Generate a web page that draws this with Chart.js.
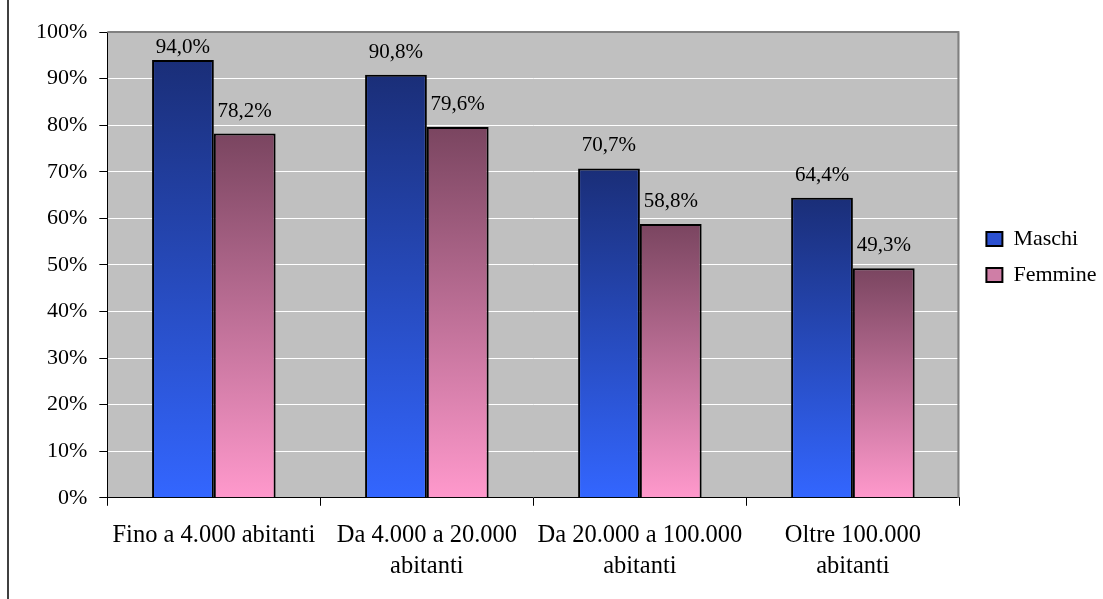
<!DOCTYPE html>
<html>
<head>
<meta charset="utf-8">
<script src="https://cdn.jsdelivr.net/npm/chart.js@4.4.0/dist/chart.umd.min.js"></script>
<style>
  html, body { margin: 0; padding: 0; background: #ffffff; }
  #wrap { width: 1103px; height: 599px; }
</style>
</head>
<body>
<div id="wrap"><canvas id="popChart" width="1103" height="599"></canvas></div>
<script>
    var categories = [
        'Fino a 4.000 abitanti',
        ['Da 4.000 a 20.000', 'abitanti'],
        ['Da 20.000 a 100.000', 'abitanti'],
        ['Oltre 100.000', 'abitanti']
    ];
    var maschi = [94.0, 90.8, 70.7, 64.4];
    var femmine = [78.2, 79.6, 58.8, 49.3];
    var yTicks = [0, 10, 20, 30, 40, 50, 60, 70, 80, 90, 100];
    var legendColors = ['#2b50d0', '#cf7ea6'];

    var serif = "'Liberation Serif', 'Times New Roman', serif";

    // vertical gradient per bar, dark on top, light at the base
    function barGradient(topColor, bottomColor) {
        return function(c) {
            var chart = c.chart;
            var y = chart.scales && chart.scales.y;
            if (!chart.chartArea || !y || c.type !== 'data') return bottomColor;
            var g = chart.ctx.createLinearGradient(0, y.getPixelForValue(c.raw), 0, y.getPixelForValue(0));
            g.addColorStop(0, topColor);
            g.addColorStop(1, bottomColor);
            return g;
        };
    }

    var plotStyle = {
        id: 'plotStyle',
        beforeDraw: function(chart) {
            var ctx = chart.ctx, a = chart.chartArea;
            ctx.save();
            ctx.fillStyle = '#ffffff';
            ctx.fillRect(0, 0, chart.width, chart.height);
            ctx.fillStyle = '#c0c0c0';
            ctx.fillRect(a.left, a.top, a.right - a.left, a.bottom - a.top);
            // frame edge on the left
            ctx.fillStyle = '#404040';
            ctx.fillRect(7, 0, 2, chart.height);
            ctx.restore();
        },
        beforeDatasetsDraw: function(chart) {
            var ctx = chart.ctx, a = chart.chartArea;
            ctx.save();
            ctx.strokeStyle = '#808080';
            ctx.lineWidth = 2;
            ctx.beginPath();
            ctx.moveTo(a.left, a.top);
            ctx.lineTo(a.right - 1, a.top);
            ctx.lineTo(a.right - 1, a.bottom);
            ctx.stroke();
            ctx.restore();
        },
        afterDatasetsDraw: function(chart) {
            var ctx = chart.ctx, a = chart.chartArea;
            ctx.save();
            ctx.font = '21px ' + serif;
            ctx.fillStyle = '#000000';
            ctx.textAlign = 'center';
            ctx.textBaseline = 'alphabetic';
            chart.data.datasets.forEach(function(ds, i) {
                chart.getDatasetMeta(i).data.forEach(function(bar, j) {
                    var txt = ds.data[j].toFixed(1).replace('.', ',') + '%';
                    // keep the label inside the plot area
                    ctx.fillText(txt, bar.x, Math.max(bar.y - 17, a.top + 21));
                });
            });
            ctx.restore();
        },
        afterLayout: function(chart) {
            var lg = chart.legend;
            if (!lg) return;
            var w = lg.right - lg.left;
            lg.left = chart.chartArea.right + 13;
            lg.right = lg.left + w;
            lg.top -= 57; lg.bottom -= 57;
        }
    };

    var ctx = document.getElementById('popChart').getContext('2d');
    var popChart = new Chart(ctx, {
        type: 'bar',
        data: {
            labels: categories,
            datasets: [{
                label: 'Maschi',
                data: maschi,
                backgroundColor: barGradient('#1a2e78', '#3366ff'),
                borderColor: '#000000',
                borderWidth: 2
            }, {
                label: 'Femmine',
                data: femmine,
                backgroundColor: barGradient('#7a4560', '#ff99cc'),
                borderColor: '#000000',
                borderWidth: 2
            }]
        },
        options: {
            responsive: false,
            animation: false,
            devicePixelRatio: 1,
            categoryPercentage: 0.58,
            barPercentage: 1,
            layout: {
                padding: { top: 32, left: 24, right: 9.5, bottom: 3 }
            },
            scales: {
                x: {
                    grid: {
                        offset: true,
                        drawOnChartArea: false,
                        tickLength: 8,
                        tickColor: '#000000'
                    },
                    border: { color: '#000000', width: 1 },
                    ticks: {
                        color: '#000000',
                        padding: 14,
                        maxRotation: 0,
                        autoSkip: false,
                        font: { family: serif, size: 24.5, lineHeight: 1.27 }
                    }
                },
                y: {
                    min: 0,
                    max: 100,
                    afterBuildTicks: function(axis) {
                        axis.ticks = yTicks.map(function(v) { return { value: v }; });
                    },
                    grid: {
                        color: '#ffffff',
                        tickLength: 8,
                        tickColor: '#000000'
                    },
                    border: { color: '#000000', width: 1 },
                    ticks: {
                        color: '#000000',
                        padding: 12,
                        font: { family: serif, size: 22 },
                        callback: function(v) { return v + '%'; }
                    }
                }
            },
            plugins: {
                legend: {
                    display: true,
                    position: 'right',
                    labels: {
                        color: '#000000',
                        boxWidth: 16,
                        boxHeight: 14,
                        padding: 14,
                        font: { family: serif, size: 22 },
                        generateLabels: function(chart) {
                            var items = Chart.defaults.plugins.legend.labels.generateLabels(chart);
                            items.forEach(function(it, i) {
                                it.fillStyle = legendColors[i];
                                it.strokeStyle = '#000000';
                                it.lineWidth = 2;
                            });
                            return items;
                        }
                    }
                },
                tooltip: { enabled: false }
            }
        },
        plugins: [plotStyle]
    });
</script>
</body>
</html>
